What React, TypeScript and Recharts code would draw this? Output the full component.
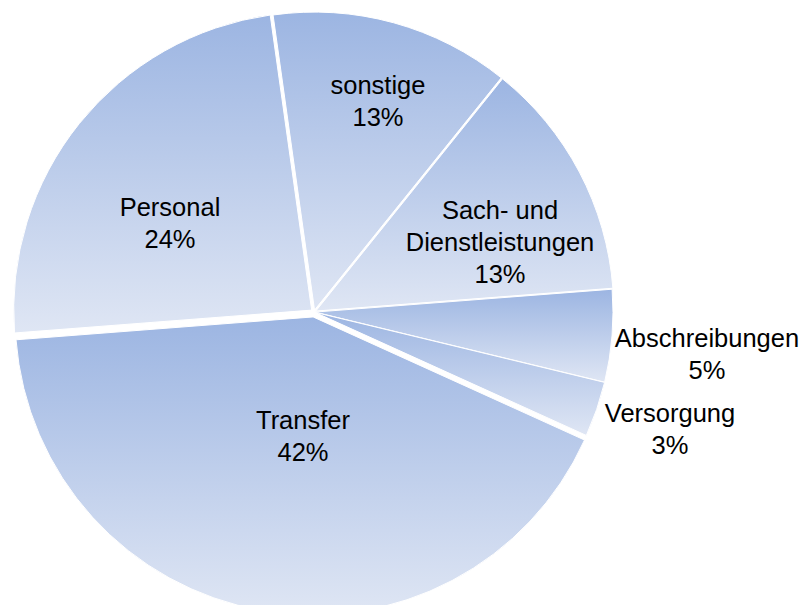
import {Pie, PieChart, Sector} from "recharts";

const names = ["sonstige", "Sach- und Dienstleistungen", "Abschreibungen", "Versorgung", "Transfer", "Personal"];
const shares = [13, 13, 5, 3, 42, 24];
const labelLines = [["sonstige"], ["Sach- und", "Dienstleistungen"], ["Abschreibungen"], ["Versorgung"], ["Transfer"], ["Personal"]];

const data = names.map((name, i) => ({name, value: shares[i], lines: labelLines[i]}));

// how far each slice is pulled out of the centre, and where its label block sits relative to the centre
const explode: Record<string, number> = {
    "sonstige": 2, "Sach- und Dienstleistungen": 2, "Abschreibungen": 1, "Versorgung": 1, "Transfer": 5, "Personal": 3,
};
const labelAt: Record<string, [number, number]> = {
    "sonstige": [64, 211],
    "Sach- und Dienstleistungen": [186, 70],
    "Abschreibungen": [393, -42],
    "Versorgung": [356, -117],
    "Transfer": [-11, -124],
    "Personal": [-144, 89],
};

const RAD = Math.PI / 180;

function ExplodedSector(props: any) {
    const off = explode[props.name] ?? 0;
    const dx = off * Math.cos(-props.midAngle * RAD);
    const dy = off * Math.sin(-props.midAngle * RAD);
    return <Sector {...props} cx={props.cx + dx} cy={props.cy + dy} fill="url(#sliceFill)" stroke="#fff" strokeWidth={1}/>;
}

function SliceLabel(props: any) {
    const [dx, dy] = labelAt[props.name];
    const x = props.cx + dx;
    const y = props.cy - dy;
    const lines: string[] = [...props.payload.lines, `${props.value}%`];
    const lh = 32;
    const y0 = y - (lines.length - 1) * lh / 2;
    return (
        <text x={x} y={y0} textAnchor="middle" dominantBaseline="central" fill="#000"
              style={{fontFamily: "'Liberation Sans', Arial, sans-serif", fontSize: 25.5}}>
            {lines.map((l, i) => (
                <tspan key={i} x={x} y={y0 + i * lh}>{l}</tspan>
            ))}
        </text>
    );
}

export default function App() {
    return (
        <>
            <style>{`body { overflow: hidden; }`}</style>
            <PieChart width={801} height={597}>
                <defs>
                    <linearGradient id="sliceFill" x1="0" y1="0" x2="0" y2="1">
                        <stop offset="0%" stopColor="#9cb5e2"/>
                        <stop offset="100%" stopColor="#dfe6f4"/>
                    </linearGradient>
                </defs>
                <Pie data={data} dataKey="value" nameKey="name" cx={301} cy={299} outerRadius={298}
                     startAngle={98} endAngle={-262} stroke="#fff" labelLine={false}
                     label={<SliceLabel/>} shape={<ExplodedSector/>} isAnimationActive={false}/>
            </PieChart>
        </>
    );
}
